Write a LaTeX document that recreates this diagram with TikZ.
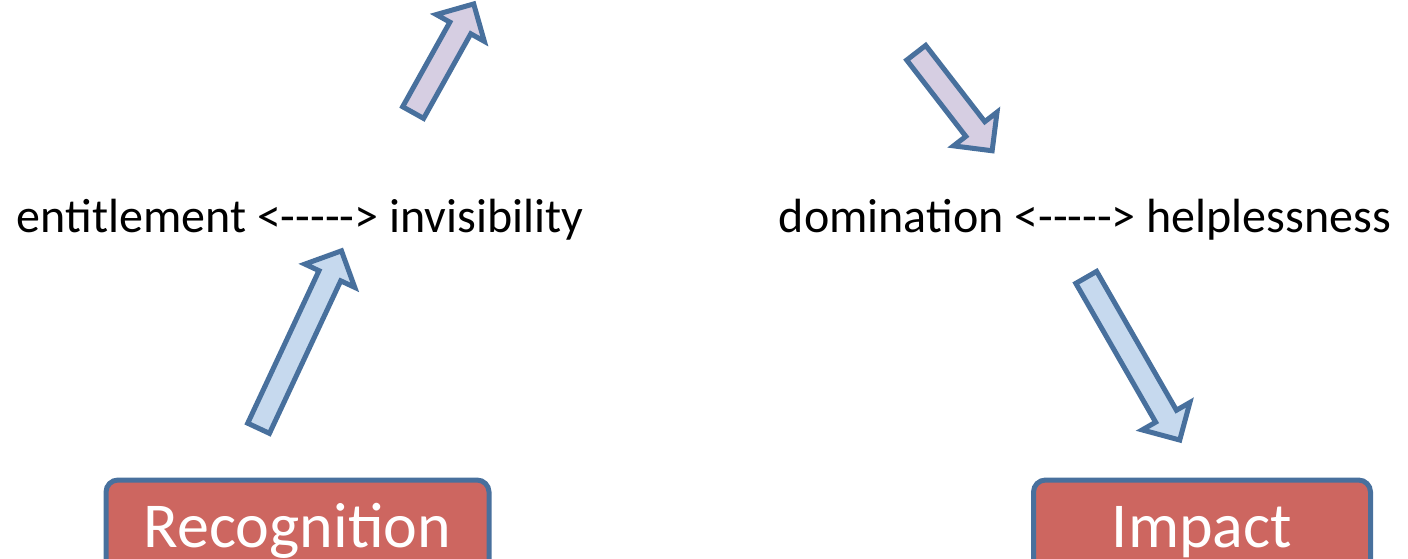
\documentclass[tikz,border=0pt]{standalone}
\usepackage{fontspec}
\setmainfont{Carlito}[Ligatures=TeXOff]
\usepackage{tikz}
\usetikzlibrary{calc,shapes.arrows}

\definecolor{arrowline}{RGB}{72,112,157}
\definecolor{lowfill}{RGB}{198,217,238}
\definecolor{highfill}{RGB}{214,206,226}
\definecolor{boxfill}{RGB}{205,102,96}

\tikzset{
  bigarrow/.style={single arrow, draw=arrowline, line width=5pt,
    minimum width=50pt, single arrow head extend=15.5pt,
    inner xsep=0pt, inner ysep=9.5pt, text height=0pt, text depth=0pt,
    anchor=center},
  pairtext/.style={font=\fontsize{48}{56}\selectfont, anchor=base, inner sep=0pt},
  keybox/.style={draw=arrowline, line width=5pt, fill=boxfill, rounded corners=12pt,
    text=white, font=\fontsize{64}{70}\selectfont, text height=35pt, text depth=0pt,
    minimum height=100pt}
}

%% block arrow from tail to tip
\newcommand\blockarrow[3]{%
  \path let \p1=($(#3)-(#2)$), \n1={atan2(\y1,\x1)}, \n2={veclen(\x1,\y1)-5} in
    node[bigarrow, fill=#1, minimum height=\n2, rotate=\n1] at ($(#2)!0.5!(#3)$) {};}

\begin{document}
\begin{tikzpicture}[x=1pt,y=-1pt]
		\useasboundingbox (0,0) rectangle (1408,559);

		%% the two pairs
		\node[pairtext] (ent) at (300,232) {entitlement <-----> invisibility};
		\node[pairtext] (dom) at (1085,232) {domination <-----> helplessness};

		%% boxes at the bottom, cut by the page
		\node[keybox, minimum width=383pt] (rec) at (297.5,530) {Recognition};
		\node[keybox, minimum width=337pt] (imp) at (1202,530) {Impact};

		%% arrows
		\coordinate (a1s) at (255,436); \coordinate (a1e) at (340,254);
		\coordinate (a2s) at (409,120); \coordinate (a2e) at (472,7);
		\coordinate (a3s) at (911,46);  \coordinate (a3e) at (990,148);
		\coordinate (a4s) at (1082,270); \coordinate (a4e) at (1178,437);
		\blockarrow{lowfill}{a1s}{a1e}
		\blockarrow{highfill}{a2s}{a2e}
		\blockarrow{highfill}{a3s}{a3e}
		\blockarrow{lowfill}{a4s}{a4e}
\end{tikzpicture}
\end{document}
